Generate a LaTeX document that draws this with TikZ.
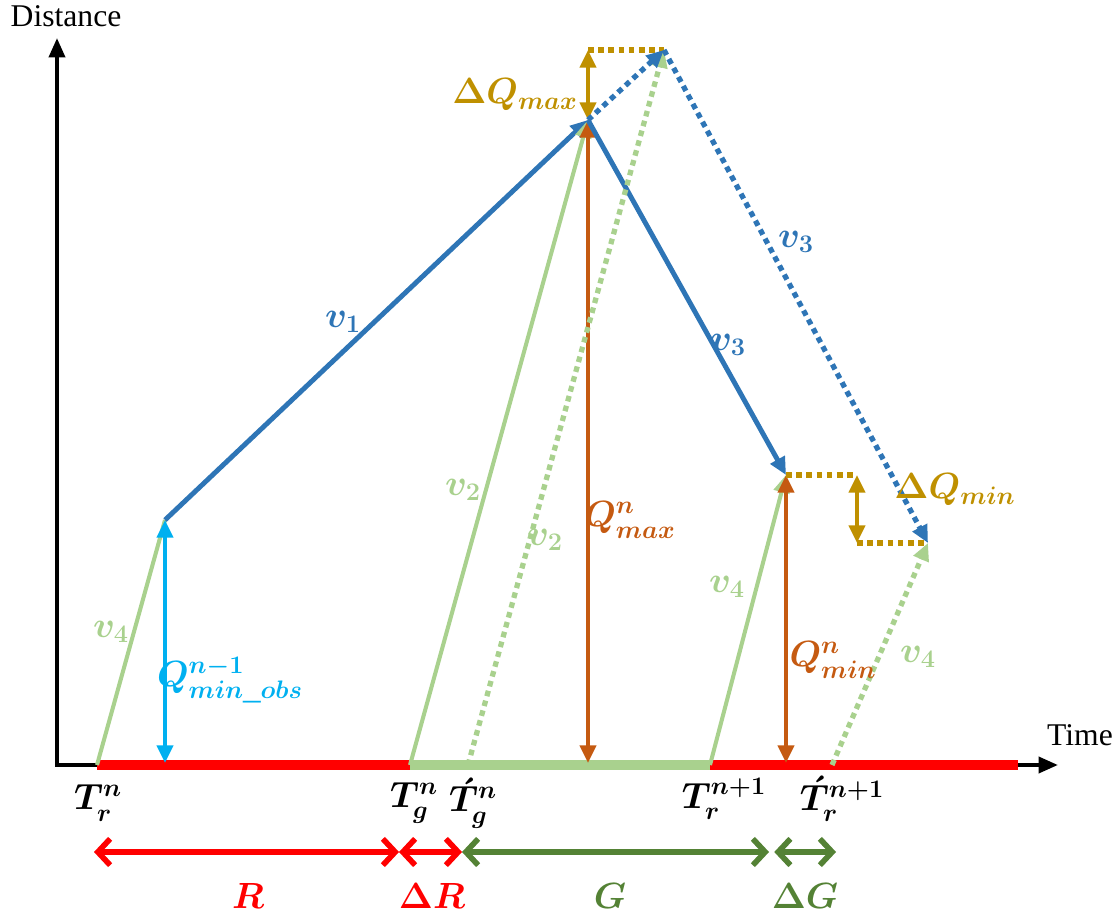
\documentclass[tikz,border=0pt]{standalone}
\usepackage{fontspec}
\setmainfont{Liberation Serif}
\usetikzlibrary{arrows.meta}
\definecolor{vblue}{RGB}{46,117,182}
\definecolor{vgreen}{RGB}{169,209,142}
\definecolor{qorange}{RGB}{197,90,17}
\definecolor{qgold}{RGB}{191,144,0}
\definecolor{qcyan}{RGB}{0,176,240}
\definecolor{sgreen}{RGB}{84,130,53}
\definecolor{sred}{RGB}{255,0,0}
\tikzset{
    lab/.style={
        font=\fontsize{20}{24}\selectfont\boldmath
    }
}

\begin{document}
\begin{tikzpicture}[x=0.02cm,y=-0.02cm, line join=round]

\tikzset{
  axis/.style={draw=black, line width=2.3pt, -{Triangle[length=11pt,width=9pt]}},
  bar/.style={line width=5.6pt},
  speed/.style={line width=2.8pt, -{Triangle[length=10pt,width=9pt]}},
  slow/.style={line width=2.3pt, -{Triangle[length=10pt,width=9pt]}},
  height/.style={line width=2.3pt, {Triangle[length=10pt,width=9pt]}-{Triangle[length=10pt,width=9pt]}},
  dots/.style={line width=3pt, dash pattern=on 3.2pt off 2.6pt},
  span/.style={line width=3.2pt, line cap=round, {Straight Barb[length=7pt,width=15pt]}-{Straight Barb[length=7pt,width=15pt]}},
  axlab/.style={font=\fontsize{18}{22}\selectfont},
}

\useasboundingbox (0,0) rectangle (1113,915);

% points
\coordinate (O) at (57,765);
\coordinate (Ytip) at (57,38);
\coordinate (Xtip) at (1058,765);
\coordinate (Tr) at (97,765);
\coordinate (Tg) at (410,765);
\coordinate (Tgp) at (468,765);
\coordinate (Tr1) at (710,765);
\coordinate (Tr1p) at (832,765);
\coordinate (Rend) at (1018,765);
\coordinate (A) at (165,520);
\coordinate (Ab) at (165,763);
\coordinate (M) at (588,120);
\coordinate (Mb) at (588,763);
\coordinate (Mq) at (588,50);
\coordinate (Mp) at (664,50);
\coordinate (N) at (786,475);
\coordinate (Nb) at (786,763);
\coordinate (Nq) at (857,475);
\coordinate (Npq) at (857,543);
\coordinate (Np) at (928,543);

% axes
\draw[axis] (O) -- (Ytip);
\draw[axis] ([xshift=-1.1pt]O) -- (Xtip);
\node[axlab, anchor=base] (dist) at (66,27) {Distance};
\node[axlab, anchor=base] (time) at (1080,745) {Time};

% phases on the time axis
\draw[bar, sred] (Tr) -- (Tg);
\draw[bar, vgreen] (Tg) -- (Tr1);
\draw[bar, sred] (Tr1) -- (Rend);

% v4 before the cycle
\draw[vgreen, line width=2.3pt] (Tr) -- (A);
\draw[height, qcyan] (Ab) -- (A);

% planned trajectory
\draw[speed, vblue] (A) -- (M);
\draw[slow, vgreen] (Tg) -- (M);
\draw[height, qorange] (Mb) -- (M);
\draw[speed, vblue] (M) -- (N);
\draw[slow, vgreen] (Tr1) -- (N);
\draw[height, qorange] (Nb) -- (N);

% shifted trajectory (dotted)
\draw[dots, qgold] (Mq) -- (Mp);
\draw[height, qgold] (Mq) -- (M);
\draw[dots, vgreen, -{Triangle[length=10pt,width=9pt]}] (Tgp) -- (Mp);
\draw[dots, vblue, -{Triangle[length=10pt,width=9pt]}] (M) -- (Mp);
\draw[dots, vblue, -{Triangle[length=10pt,width=9pt]}] (Mp) -- (Np);
\draw[dots, qgold] (N) -- (Nq);
\draw[height, qgold] (Nq) -- (Npq);
\draw[dots, qgold] (Npq) -- (Np);
\draw[dots, vgreen, -{Triangle[length=10pt,width=9pt]}] (Tr1p) -- (Np);

% labels on the lines
\node[lab, vgreen] (lv4a) at (111,632) {$v_4$};
\node[lab, qcyan] (lqobs) at (230,680) {$Q^{n-1}_{min\_obs}$};
\node[lab, vblue] (lv1) at (343,322) {$v_1$};
\node[lab, vgreen] (lv2) at (463,490) {$v_2$};
\node[lab, vgreen] (lv2p) at (545,540) {$v_2$};
\node[lab, qorange] (lqmax) at (630,520) {$Q^{n}_{max}$};
\node[lab, qgold] (ldqmax) at (515,95) {$\Delta Q_{max}$};
\node[lab, vblue] (lv3) at (728,345) {$v_3$};
\node[lab, vblue] (lv3p) at (796,242) {$v_3$};
\node[lab, qgold] (ldqmin) at (955,490) {$\Delta Q_{min}$};
\node[lab, vgreen] (lv4b) at (727,587) {$v_4$};
\node[lab, qorange] (lqmin) at (833,660) {$Q^{n}_{min}$};
\node[lab, vgreen] (lv4c) at (918,657) {$v_4$};

% time instants
\node[lab, inner sep=1pt] (ltr) at (98,803) {$T^{n}_{r}$};
\node[lab, inner sep=1pt] (ltg) at (414,803) {$T^{n}_{g}$};
\node[lab, inner sep=1pt] (ltgp) at (473,803) {$\acute{T}^{n}_{g}$};
\node[lab, inner sep=1pt] (ltr1) at (724,799) {$T^{n+1}_{r}$};
\node[lab, inner sep=1pt] (ltr1p) at (842,799) {$\acute{T}^{n+1}_{r}$};

% durations
\coordinate (s0) at (94,852);
\coordinate (s1) at (399,852);
\coordinate (s2) at (462,852);
\coordinate (s3) at (769,852);
\coordinate (s4) at (836,852);
\draw[span, sred] (s0) -- (s1);
\draw[span, sred] (s1) -- (s2);
\draw[span, sgreen] (s2) -- (s3);
\draw[span, sgreen] ([xshift=3pt]s3) -- (s4);
\node[lab, sred] (lr) at (248,896) {$R$};
\node[lab, sred] (ldr) at (432,896) {$\Delta R$};
\node[lab, sgreen] (lg) at (610,896) {$G$};
\node[lab, sgreen] (ldg) at (805,896) {$\Delta G$};

\end{tikzpicture}
\end{document}
